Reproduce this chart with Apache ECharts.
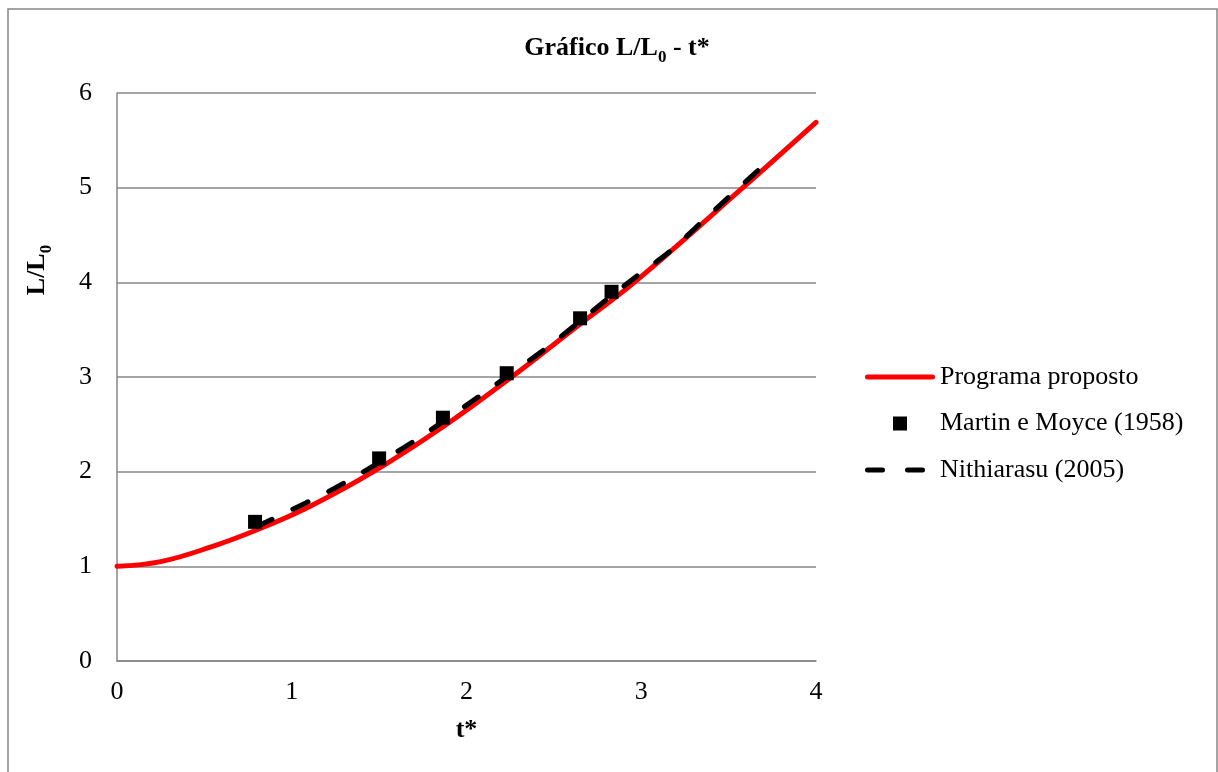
<!DOCTYPE html>
<html>
<head>
<meta charset="utf-8">
<script src="https://cdn.jsdelivr.net/npm/echarts@6/dist/echarts.min.js"></script>
<style>
  html, body { margin: 0; padding: 0; background: #ffffff; }
  #chart { width: 1218px; height: 772px; }
</style>
</head>
<body>
<div id="chart"></div>
<script>
// Dimensionless front position L/L0 versus dimensionless time t*
const programaT = [0, 0.25, 0.53, 0.82, 1.10, 1.467, 1.87, 2.258, 2.65, 2.96, 3.575, 4.0];
const programaL = [1.0, 1.05, 1.20, 1.40, 1.63, 2.0, 2.48, 3.0, 3.56, 4.0, 4.99, 5.69];

const martinT = [0.79, 1.50, 1.865, 2.23, 2.65, 2.83];
const martinL = [1.47, 2.14, 2.57, 3.04, 3.62, 3.90];

const nithiT = [0.80, 1.08, 1.28, 1.68, 2.06, 2.43, 2.61, 2.79, 2.97, 3.16, 3.33, 3.50, 3.71];
const nithiL = [1.42, 1.67, 1.86, 2.30, 2.78, 3.27, 3.53, 3.80, 4.06, 4.32, 4.61, 4.90, 5.25];

const xTicks = [0, 1, 2, 3, 4];
const yTicks = [0, 1, 2, 3, 4, 5, 6];

const seriesNames = ['Programa proposto', 'Martin e Moyce (1958)', 'Nithiarasu (2005)'];

const pairs = (xs, ys) => xs.map((x, i) => [x, ys[i]]);

const FONT = "'Liberation Serif', 'Times New Roman', serif";
const GRID_GRAY = '#878787';
const FS = 26;

// rich styles: bold text with a lowered, smaller subscript
const subRich = {
  b: { fontFamily: FONT, fontSize: FS, fontWeight: 'bold', color: '#000', verticalAlign: 'bottom', padding: [0, 0, 5, 0] },
  s: { fontFamily: FONT, fontSize: 17, fontWeight: 'bold', color: '#000', verticalAlign: 'bottom', padding: [0, 0, 0, 0] }
};

// legend glyphs: solid stroke, square marker, two dashes (rounded ends)
const pill = (x, w) => `M${x + 2.5},0 h${w - 5} a2.5,2.5 0 0 1 0,5 h${-(w - 5)} a2.5,2.5 0 0 1 0,-5 z`;
const iconSolid = 'path://' + pill(0, 70);
const iconSquare = 'path://M0,0 h14 v14 h-14 z';
const iconDashed = 'path://' + pill(0, 20) + ' ' + pill(40, 20) + ' M70,2.5';

const chart = echarts.init(document.getElementById('chart'), null, { renderer: 'canvas' });

chart.setOption({
  backgroundColor: '#ffffff',
  animation: false,
  title: {
    text: '{b|Gráfico L/L}{s|0}{b| - t*}',
    left: 612,
    top: 30,
    textAlign: 'center',
    textStyle: { rich: subRich }
  },
  graphic: [
    {
      type: 'rect',
      shape: { x: 8, y: 9, width: 1209, height: 800 },
      style: { fill: 'none', stroke: '#868686', lineWidth: 1.5 },
      silent: true,
      z: -10
    },
    {
      type: 'text',
      x: 40,
      y: 270,
      rotation: Math.PI / 2,
      style: {
        text: '{b|L/L}{s|0}',
        rich: subRich,
        align: 'center',
        verticalAlign: 'middle'
      },
      silent: true
    }
  ],
  legend: {
    orient: 'vertical',
    left: 865,
    top: 364,
    padding: 0,
    itemWidth: 70,
    itemHeight: 14,
    itemGap: 20.5,
    symbolKeepAspect: true,
    data: [
      { name: seriesNames[0], icon: iconSolid },
      { name: seriesNames[1], icon: iconSquare },
      { name: seriesNames[2], icon: iconDashed }
    ],
    textStyle: { fontFamily: FONT, fontSize: FS, color: '#000', lineHeight: 26 }
  },
  grid: { left: 117, right: 402, top: 93, bottom: 111, containLabel: false },
  xAxis: {
    type: 'value',
    min: xTicks[0],
    max: xTicks[xTicks.length - 1],
    interval: 1,
    name: '{b|t*}',
    nameLocation: 'middle',
    nameGap: 56,
    nameTextStyle: { rich: subRich },
    axisLine: { show: true, lineStyle: { color: GRID_GRAY, width: 1.5 } },
    axisTick: { show: false },
    axisLabel: { fontFamily: FONT, fontSize: FS, color: '#000', margin: 18 },
    splitLine: { show: false }
  },
  yAxis: {
    type: 'value',
    min: yTicks[0],
    max: yTicks[yTicks.length - 1],
    interval: 1,
    axisLine: { show: true, lineStyle: { color: GRID_GRAY, width: 1.5 } },
    axisTick: { show: false },
    axisLabel: { fontFamily: FONT, fontSize: FS, color: '#000', margin: 25 },
    splitLine: { show: true, lineStyle: { color: GRID_GRAY, width: 1.5 } }
  },
  series: [
    {
      name: seriesNames[0],
      type: 'line',
      data: pairs(programaT, programaL),
      smooth: 0.4,
      symbol: 'none',
      lineStyle: { color: '#ff0000', width: 5, cap: 'round' },
      itemStyle: { color: '#ff0000' },
      z: 2
    },
    {
      name: seriesNames[1],
      type: 'scatter',
      data: pairs(martinT, martinL),
      symbol: 'rect',
      symbolSize: 14,
      itemStyle: { color: '#000000', opacity: 1 },
      z: 3
    },
    {
      name: seriesNames[2],
      type: 'line',
      data: pairs(nithiT, nithiL),
      smooth: 0.3,
      symbol: 'none',
      lineStyle: { color: '#000000', width: 5, type: [17, 23], cap: 'round' },
      itemStyle: { color: '#000000' },
      z: 4
    }
  ]
});
</script>
</body>
</html>
